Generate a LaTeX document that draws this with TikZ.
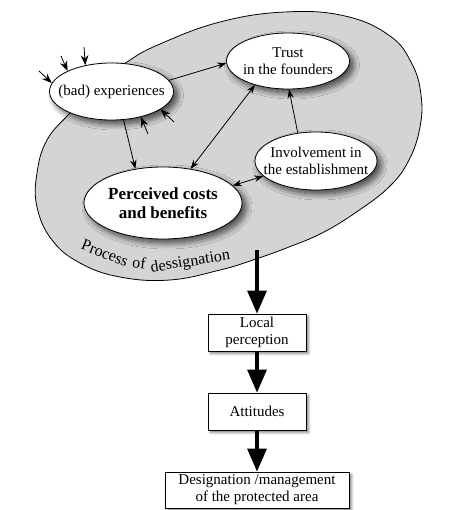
\documentclass[tikz,border=0pt]{standalone}
\usepackage{fontspec}
\setmainfont{Liberation Serif}
\usetikzlibrary{shapes.geometric,arrows.meta,shadows.blur}
\begin{document}
\begin{tikzpicture}[x=1pt,y=1pt,
  bub/.style={ellipse, draw, line width=0.8pt, fill=white, inner sep=0pt,
    blur shadow={shadow xshift=4pt, shadow yshift=-4pt, shadow blur radius=6pt, shadow blur steps=10, shadow opacity=70}},
  lbl/.style={align=center, font=\fontsize{15}{17}\selectfont, inner sep=0pt},
  proc/.style={font=\fontsize{16}{16}\selectfont, inner sep=0pt, anchor=base},
  boxn/.style={draw, line width=0.8pt, fill=white, minimum width=98pt, minimum height=37pt,
    align=center, inner sep=0pt, font=\fontsize{15}{17}\selectfont,
    blur shadow={shadow xshift=2.5pt, shadow yshift=-2.5pt, shadow blur radius=2.5pt, shadow opacity=50}},
  onearr/.style={line width=0.8pt, -{Stealth[length=9pt,width=6.5pt]}},
  smallarr/.style={line width=0.8pt, -{Stealth[length=10pt,width=7.5pt]}},
  twoarr/.style={line width=0.8pt, {Stealth[length=9pt,width=6.5pt]}-{Stealth[length=9pt,width=6.5pt]}},
  bigarr/.style={line width=3.2pt, -{Triangle[length=23pt,width=19pt]}}
]
\useasboundingbox (0,0) rectangle (462,-510);

% process region
\draw[line width=0.8pt, fill=black!17] plot[smooth cycle, tension=0.7] coordinates {
  (127,-62) (160,-44) (220,-22) (285,-12) (345,-16) (390,-36) (412,-64) (421,-95)
  (420,-127) (409,-160) (389,-187) (355,-213) (322,-233) (289,-247) (253,-260)
  (220,-270) (170,-280) (120,-277) (80,-263) (52,-240) (37,-207) (37,-173)
  (47,-140) (70,-113) (97,-86)};

\node[proc, rotate=-22] (p1) at (103,-258) {Process};
\node[proc, rotate=-7] (p2) at (138.5,-268) {of};
\node[proc, rotate=9] (p3) at (191,-266) {dessignation};

% inner ellipses
\node[bub, minimum width=124pt, minimum height=57pt] (bad) at (111.5,-91.5) {};
\node[lbl] (badt) at (bad) {(bad) experiences};
\node[bub, minimum width=123pt, minimum height=56pt] (trust) at (288,-61) {};
\node[lbl] (trustt) at (trust) {Trust\\in the founders};
\node[bub, minimum width=122pt, minimum height=58pt] (inv) at (316,-161) {};
\node[lbl] (invt) at (inv) {Involvement in\\the establishment};
\node[bub, minimum width=158pt, minimum height=72pt] (perc) at (163,-203) {};
\node[lbl, font=\fontsize{17}{19}\selectfont\bfseries] (perct) at (perc) {Perceived costs\\and benefits};

% connectors inside
\draw[onearr] (bad.11.5) -- (trust.182);
\draw[onearr] (bad.293.7) -- (perc.129.8);
\draw[twoarr] (trust.216.6) -- (perc.51);
\draw[onearr] (inv.123) -- (trust.272);
\draw[twoarr] (inv.196) -- (perc.14.4);

% external influences
\coordinate (t1) at (39,-71);
\coordinate (t2) at (61,-56);
\coordinate (t3) at (84,-47);
\coordinate (t4) at (174,-122);
\coordinate (t5) at (148,-134);
\draw[smallarr] (t1) -- (bad.172);
\draw[smallarr] (t2) -- (bad.155);
\draw[smallarr] (t3) -- (bad.135);
\draw[smallarr] (t4) -- (bad.340);
\draw[smallarr] (t5) -- (bad.319);

% lower chain
\coordinate (pd) at (257,-250);
\node[boxn] (lp) at (257,-332.5) {Local\\perception};
\node[boxn] (att) at (257,-411.5) {Attitudes};
\node[boxn, minimum width=184pt, minimum height=36pt] (des) at (257,-490) {Designation /management\\of the protected area};
\draw[bigarr] (pd) -- (lp.north);
\draw[bigarr] (lp.south) -- (att.north);
\draw[bigarr] (att.south) -- (des.north);
\end{tikzpicture}
\end{document}
